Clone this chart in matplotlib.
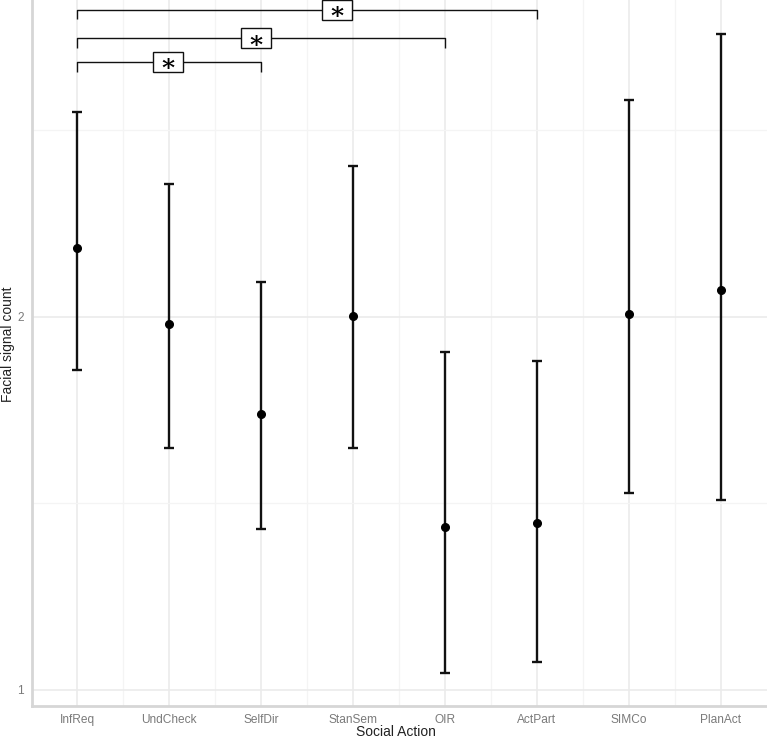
import numpy as np
import matplotlib
matplotlib.use("Agg")
import matplotlib.pyplot as plt
from matplotlib.patches import Rectangle
from matplotlib.ticker import FixedLocator, NullFormatter
from matplotlib.transforms import ScaledTranslation


# 数据：各社交行为的面部信号计数估计值及置信区间
actions = ['InfReq', 'UndCheck', 'SelfDir', 'StanSem', 'OIR', 'ActPart', 'SIMCo', 'PlanAct']
estimate = [2.272, 1.974, 1.669, 2.003, 1.353, 1.362, 2.011, 2.100]
ci_low = [1.811, 1.567, 1.348, 1.567, 1.031, 1.054, 1.442, 1.422]
ci_high = [2.925, 2.560, 2.132, 2.646, 1.871, 1.840, 2.989, 3.382]

# 显著性比较：起点、终点、括号高度、星号位置
sig_start = [0, 0, 0]
sig_end = [5, 4, 2]
sig_level = [3.535, 3.354, 3.211]
sig_drop = [3.474, 3.292, 3.152]
sig_label_x = [2.83, 1.95, 0.99]

plt.rcParams['font.family'] = ['Liberation Sans', 'DejaVu Sans']


def draw_chart():
    W, H = 767, 739
    fig = plt.figure(figsize=(W / 100, H / 100), dpi=100)
    ax = fig.add_axes([32 / W, 33.3 / H, 1 - 32 / W, 1 - 33.3 / H])

    x = np.arange(len(actions))
    est = np.array(estimate)
    lo = np.array(ci_low)
    hi = np.array(ci_high)

    ax.set_yscale('log')
    ax.set_ylim(0.971, 3.60)
    ax.set_xlim(-0.49, 7.5)

    # 网格
    ax.yaxis.set_major_locator(FixedLocator([1, 2]))
    ax.yaxis.set_minor_locator(FixedLocator([np.sqrt(2), 2 * np.sqrt(2)]))
    ax.yaxis.set_minor_formatter(NullFormatter())
    ax.set_yticklabels(['1', '2'])
    ax.set_xticks(x)
    ax.set_xticks(x[:-1] + 0.5, minor=True)
    ax.set_xticklabels(actions)
    ax.grid(which='major', color='#ebebeb', linewidth=1.2)
    ax.grid(which='minor', color='#f4f4f4', linewidth=0.9)
    ax.set_axisbelow(True)

    for side in ['top', 'right']:
        ax.spines[side].set_visible(False)
    for side in ['left', 'bottom']:
        ax.spines[side].set_color('#d6d6d6')
        ax.spines[side].set_linewidth(2.0)

    ax.tick_params(which='both', length=0)
    ax.tick_params(axis='x', labelsize=8.6, pad=6)
    ax.tick_params(axis='y', labelsize=8.6, pad=6)
    for lab in ax.get_xticklabels() + ax.get_yticklabels():
        lab.set_color('#7a7a7a')

    ax.errorbar(x, est, yerr=[est - lo, hi - est], fmt='o', color='black',
                ecolor='#111111', elinewidth=1.7, capsize=3.7, capthick=1.7,
                markersize=5.5)

    # 显著性括号
    for s, e, lv, dr, lx in zip(sig_start, sig_end, sig_level, sig_drop, sig_label_x):
        ax.plot([s, s, e, e], [dr, lv, lv, dr], color='#111111', linewidth=1.0,
                solid_capstyle='butt')
        trans = fig.dpi_scale_trans + ScaledTranslation(lx, lv, ax.transData)
        ax.add_patch(Rectangle((-0.15, -0.10), 0.30, 0.20, transform=trans,
                               facecolor='white', edgecolor='#111111',
                               linewidth=1.0, clip_on=False, zorder=3))
        ax.annotate('*', xy=(lx, lv), xytext=(0, -10.5), textcoords='offset points',
                    ha='center', va='baseline', fontsize=18, fontweight='bold',
                    family='DejaVu Serif', color='black', zorder=4,
                    annotation_clip=False)

    # 轴标题
    fig.text(395.5 / W, 2.5 / H, 'Social Action', ha='center', va='baseline',
             fontsize=10, color='#222222')
    fig.text(8.5 / W, 1 - 344.5 / H, 'Facial signal count', ha='center',
             va='center', rotation=90, fontsize=10, color='#222222')

    fig.savefig('out.png', dpi=100)


if __name__ == "__main__":
    draw_chart()
